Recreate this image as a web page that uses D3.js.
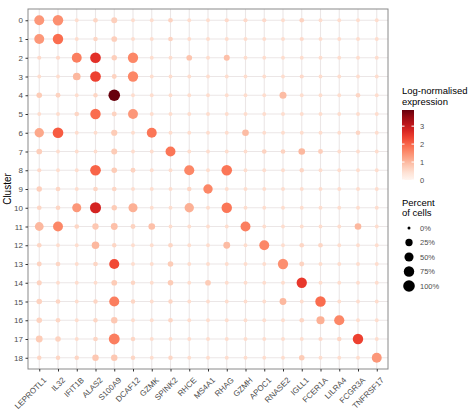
<!DOCTYPE html>
<html>
<head>
<meta charset="utf-8">
<script src="https://cdn.jsdelivr.net/npm/d3@7"></script>
<style>
  html, body { margin: 0; padding: 0; background: #fff; }
  svg { display: block; font-family: "Liberation Sans", Arial, sans-serif; }
</style>
</head>
<body>
<svg id="chart" width="474" height="414"></svg>
<script>
const genes = ["LEPROTL1","IL32","IFIT1B","ALAS2","S100A9","DCAF12","GZMK","SPINK2","RHCE","MS4A1","RHAG","GZMH","APOC1","RNASE2","IGLL1","FCER1A","LILRA4","FCGR3A","TNFRSF17"];
const clusters = ["0","1","2","3","4","5","6","7","8","9","10","11","12","13","14","15","16","17","18"];

// percent of cells expressing (rows = clusters, cols = genes)
const pctByCluster = [
  [65,75,1,4,12,1,1,4,1,1,2,2,2,1,4,1,1,1,1],
  [65,75,1,3,10,1,1,4,1,1,1,1,1,1,2,1,1,1,1],
  [2,2,65,80,8,72,1,1,10,1,12,1,1,1,1,1,1,1,1],
  [1,1,30,80,5,72,1,1,1,1,1,1,1,1,2,1,1,1,1],
  [9,5,1,3,100,1,1,1,1,1,1,1,1,22,1,1,1,4,1],
  [1,1,4,75,5,65,1,1,1,1,1,1,1,1,1,1,1,1,1],
  [55,80,1,1,14,1,65,1,1,1,1,18,1,1,1,1,1,4,1],
  [10,1,1,1,12,1,1,65,1,1,1,1,4,4,18,5,1,1,1],
  [2,1,1,80,9,5,1,1,68,1,78,1,1,1,3,1,1,1,1],
  [8,4,1,4,4,1,1,1,3,55,1,1,1,1,1,1,1,1,1],
  [4,4,50,88,8,50,1,1,55,1,75,1,1,1,1,1,1,1,1],
  [45,65,4,15,20,5,18,1,1,1,1,65,1,1,1,1,1,18,1],
  [4,1,1,28,3,1,1,4,1,1,20,1,65,1,4,4,1,1,1],
  [5,4,1,4,68,1,1,9,1,1,1,1,1,72,5,1,1,1,1],
  [6,1,1,1,10,3,1,9,1,10,1,1,1,1,72,1,1,1,1],
  [9,4,1,3,68,3,1,3,1,1,1,1,1,20,1,75,1,1,1],
  [9,4,1,3,16,1,1,4,1,1,1,1,1,1,4,35,70,1,1],
  [20,9,1,4,85,3,1,1,1,1,1,1,1,1,1,2,3,75,1],
  [3,3,3,16,16,3,1,3,1,1,1,1,1,1,9,1,1,1,65]
];

// log-normalised expression (rows = clusters, cols = genes)
const exprByCluster = [
  [1.4,1.5,.5,.6,.7,.5,.5,.65,.5,.5,.55,.55,.55,.5,.65,.5,.5,.5,.5],
  [1.4,1.9,.5,.6,.7,.5,.5,.65,.5,.5,.5,.5,.5,.5,.55,.5,.5,.5,.5],
  [.55,.55,1.7,2.6,.7,1.6,.5,.5,.85,.5,.9,.5,.5,.5,.5,.5,.5,.5,.5],
  [.5,.5,1.0,2.4,.65,1.6,.5,.5,.5,.5,.5,.5,.5,.5,.55,.5,.5,.5,.5],
  [.75,.65,.5,.6,3.9,.5,.5,.5,.5,.5,.5,.5,.5,.95,.5,.5,.5,.6,.5],
  [.5,.5,.6,1.9,.65,1.4,.5,.5,.5,.5,.5,.5,.5,.5,.5,.5,.5,.5,.5],
  [1.2,2.1,.5,.5,.75,.5,1.8,.5,.5,.5,.5,.95,.5,.5,.5,.5,.5,.6,.5],
  [.7,.5,.5,.5,.75,.5,.5,1.8,.5,.5,.5,.5,.65,.65,1.0,.7,.5,.5,.5],
  [.55,.5,.5,2.0,.75,.65,.5,.5,1.6,.5,1.8,.5,.5,.5,.6,.5,.5,.5,.5],
  [.7,.6,.5,.6,.6,.5,.5,.5,.6,1.6,.5,.5,.5,.5,.5,.5,.5,.5,.5],
  [.6,.6,1.4,2.8,.75,1.1,.5,.5,1.1,.5,1.8,.5,.5,.5,.5,.5,.5,.5,.5],
  [1.0,1.6,.6,.8,.9,.65,.9,.5,.5,.5,.5,1.7,.5,.5,.5,.5,.5,1.0,.5],
  [.6,.5,.5,1.0,.6,.5,.5,.6,.5,.5,.95,.5,1.6,.5,.6,.6,.5,.5,.5],
  [.65,.6,.5,.6,2.3,.5,.5,.75,.5,.5,.5,.5,.5,1.5,.65,.5,.5,.5,.5],
  [.65,.5,.5,.5,.75,.6,.5,.75,.5,.75,.5,.5,.5,.5,2.5,.5,.5,.5,.5],
  [.65,.6,.5,.6,1.7,.6,.5,.6,.5,.5,.5,.5,.5,1.0,.5,1.9,.5,.5,.5],
  [.65,.6,.5,.6,.8,.5,.5,.6,.5,.5,.5,.5,.5,.5,.6,1.1,1.6,.5,.5],
  [.75,.65,.5,.6,1.7,.6,.5,.5,.5,.5,.5,.5,.5,.5,.5,.55,.6,2.4,.5],
  [.6,.6,.6,.8,.8,.6,.5,.6,.5,.5,.5,.5,.5,.5,.75,.5,.5,.5,1.4]
];

const colourTicks = [0, 1, 2, 3];
const sizeBreaks = [0, 25, 50, 75, 100];
const sizeLabels = ["0%", "25%", "50%", "75%", "100%"];

const svg = d3.select("#chart");
const P = { left: 28, right: 388, top: 9, bottom: 369 };

const x = d3.scalePoint().domain(genes).range([P.left, P.right]).padding(0.6);
const y = d3.scalePoint().domain(clusters).range([P.top, P.bottom]).padding(0.6);
const r = d3.scaleSqrt().domain([0, 100]).range([1.5, 5.8]);
const exprMax = 3.9;
const colour = d3.scaleSequential(d3.interpolateReds).domain([0, exprMax]);

const data = [];
clusters.forEach((c, i) => genes.forEach((g, j) => {
  data.push({ cluster: c, gene: g, pct: pctByCluster[i][j], expr: exprByCluster[i][j] });
}));

// grid
const grid = svg.append("g");
grid.selectAll("line.v").data(genes).join("line")
  .attr("x1", d => x(d)).attr("x2", d => x(d))
  .attr("y1", P.top).attr("y2", P.bottom)
  .attr("stroke", "#ebe6e6").attr("stroke-width", 1.1);
grid.selectAll("line.h").data(clusters).join("line")
  .attr("y1", d => y(d)).attr("y2", d => y(d))
  .attr("x1", P.left).attr("x2", P.right)
  .attr("stroke", "#ebe6e6").attr("stroke-width", 1.1);

// dots
svg.append("g").selectAll("circle").data(data).join("circle")
  .attr("cx", d => x(d.gene)).attr("cy", d => y(d.cluster))
  .attr("r", d => r(d.pct)).attr("fill", d => colour(d.expr));

// panel border
svg.append("rect").attr("x", P.left).attr("y", P.top)
  .attr("width", P.right - P.left).attr("height", P.bottom - P.top)
  .attr("fill", "none").attr("stroke", "#8a8a8a").attr("stroke-width", 1);

// axes
const yAxis = svg.append("g").attr("transform", `translate(${P.left},0)`)
  .call(d3.axisLeft(y).tickSize(2.5).tickPadding(2.5));
yAxis.select(".domain").remove();
yAxis.selectAll("line").attr("stroke", "#333");
yAxis.selectAll("text").attr("fill", "#4d4d4d").style("font-size", "8px")
  .style("font-family", "Liberation Sans, Arial, sans-serif");

const xAxis = svg.append("g").attr("transform", `translate(0,${P.bottom})`)
  .call(d3.axisBottom(x).tickSize(2.5).tickPadding(2));
xAxis.select(".domain").remove();
xAxis.selectAll("line").attr("stroke", "#333");
xAxis.selectAll("text").attr("fill", "#4d4d4d").style("font-size", "8px")
  .style("font-family", "Liberation Sans, Arial, sans-serif")
  .attr("text-anchor", "end").attr("dy", "0")
  .attr("transform", "translate(4,8.5) rotate(-45)");

// y title
svg.append("text").attr("transform", "translate(11,189) rotate(-90)")
  .attr("text-anchor", "middle").style("font-size", "10px").attr("fill", "#000")
  .text("Cluster");

// colour legend
const lg = svg.append("g");
lg.append("text").attr("x", 402).attr("y", 94).style("font-size", "9.5px").text("Log-normalised");
lg.append("text").attr("x", 402).attr("y", 104.5).style("font-size", "9.5px").text("expression");
const defs = svg.append("defs");
const grad = defs.append("linearGradient").attr("id", "cg")
  .attr("x1", 0).attr("y1", 1).attr("x2", 0).attr("y2", 0);
d3.range(0, 1.0001, 0.1).forEach(t => {
  grad.append("stop").attr("offset", t).attr("stop-color", colour(t * exprMax));
});
const cbTop = 110, cbBottom = 180, cbX = 402, cbW = 12;
const cy = d3.scaleLinear().domain([0, exprMax]).range([cbBottom, cbTop]);
lg.append("rect").attr("x", cbX).attr("y", cbTop).attr("width", cbW)
  .attr("height", cbBottom - cbTop).attr("fill", "url(#cg)");
colourTicks.forEach(t => {
  lg.append("line").attr("x1", cbX).attr("x2", cbX + 2.5).attr("y1", cy(t)).attr("y2", cy(t)).attr("stroke", "#fff");
  lg.append("line").attr("x1", cbX + cbW - 2.5).attr("x2", cbX + cbW).attr("y1", cy(t)).attr("y2", cy(t)).attr("stroke", "#fff");
  lg.append("text").attr("x", 420).attr("y", cy(t)).attr("dy", "0.35em")
    .style("font-size", "7.5px").attr("fill", "#4d4d4d").text(t);
});

// size legend
lg.append("text").attr("x", 402).attr("y", 205.5).style("font-size", "9.5px").text("Percent");
lg.append("text").attr("x", 402).attr("y", 216).style("font-size", "9.5px").text("of cells");
const sy = d3.scalePoint().domain(sizeBreaks).range([228, 286]);
sizeBreaks.forEach((b, i) => {
  lg.append("circle").attr("cx", 409).attr("cy", sy(b)).attr("r", r(b)).attr("fill", "#000");
  lg.append("text").attr("x", 420).attr("y", sy(b)).attr("dy", "0.35em")
    .style("font-size", "7.5px").attr("fill", "#4d4d4d").text(sizeLabels[i]);
});
</script>
</body>
</html>
